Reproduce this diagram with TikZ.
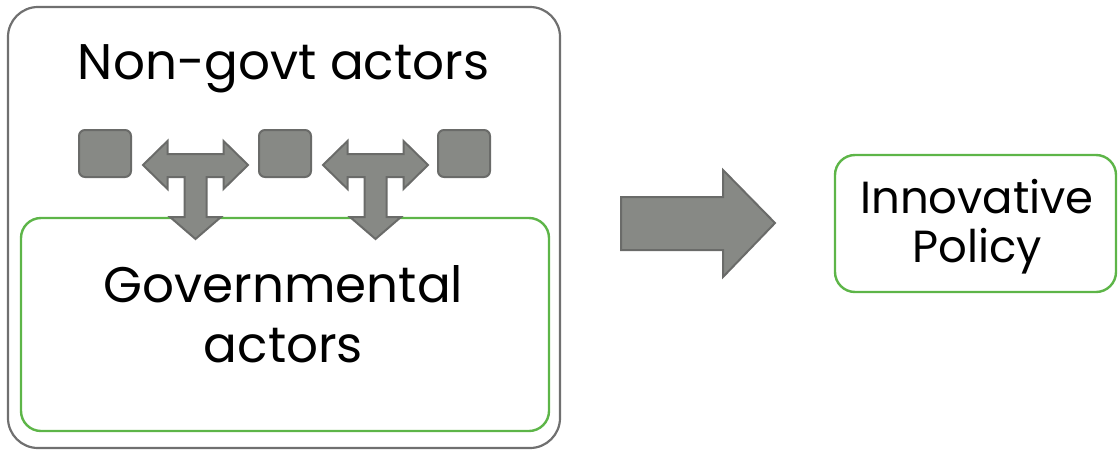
\documentclass[tikz,border=0pt]{standalone}
\usepackage{fontspec}
\setmainfont{Poppins}
\definecolor{boxgray}{HTML}{707070}
\definecolor{shapefill}{HTML}{878985}
\definecolor{shapeline}{HTML}{6A6B69}
\definecolor{govgreen}{HTML}{5DB548}
\tikzset{
  frame/.style={draw=boxgray, line width=2.2pt, rounded corners=30pt},
  greenbox/.style={draw=govgreen, line width=2.4pt, rounded corners=20pt},
  actor/.style={fill=shapefill, draw=shapeline, line width=2pt, rounded corners=6pt},
  flow/.style={fill=shapefill, draw=shapeline, line width=2pt, line join=miter},
  bigtext/.style={font=\fontsize{50}{60}\selectfont, inner sep=0pt, align=center, anchor=base},
  smalltext/.style={font=\fontsize{45}{49}\selectfont, inner sep=0pt, align=center, anchor=base}
}
\begin{document}
\begin{tikzpicture}[x=1pt, y=-1pt]
  \useasboundingbox (0,0) rectangle (1118,450);

  % outer container and the governmental box inside it
  \draw[frame] (8,7) rectangle (560,448);
  \draw[greenbox] (21,218) rectangle (549,431);

  \node[bigtext] (nongov) at (283.5,79) {Non-govt actors};
  % base anchor of a two-line node sits on the last line
  \node[bigtext] (gov) at (283.5,362) {Governmental\\actors};

  % non-governmental actors
  \foreach \i/\x in {1/79, 2/259, 3/438} {
    \draw[actor] (\x,130) rectangle ++(52,47);
    \coordinate (actor\i) at (\x+26,153.5);
  }

  % T-shaped exchange arrows between actors and down to government
  \foreach \cx in {195.5, 375.5} {
    \draw[flow]
      (\cx-52.5,165) -- (\cx-28,141) -- (\cx-28,154) -- (\cx+28,154)
      -- (\cx+28,141) -- (\cx+52.5,165) -- (\cx+28,189) -- (\cx+28,177)
      -- (\cx+11,177) -- (\cx+11,217) -- (\cx+25.5,217) -- (\cx,239)
      -- (\cx-25.5,217) -- (\cx-11,217) -- (\cx-11,177) -- (\cx-28,177)
      -- (\cx-28,189) -- cycle;
  }

  % outcome
  \draw[greenbox] (835,155) rectangle (1116,292);
  \node[smalltext] (policy) at (977,262) {Innovative\\Policy};

  % main arrow from the actors to the policy
  \draw[flow] (621,197) -- (723,197) -- (723,170) -- (775,223)
    -- (723,277) -- (723,250) -- (621,250) -- cycle;
\end{tikzpicture}
\end{document}
